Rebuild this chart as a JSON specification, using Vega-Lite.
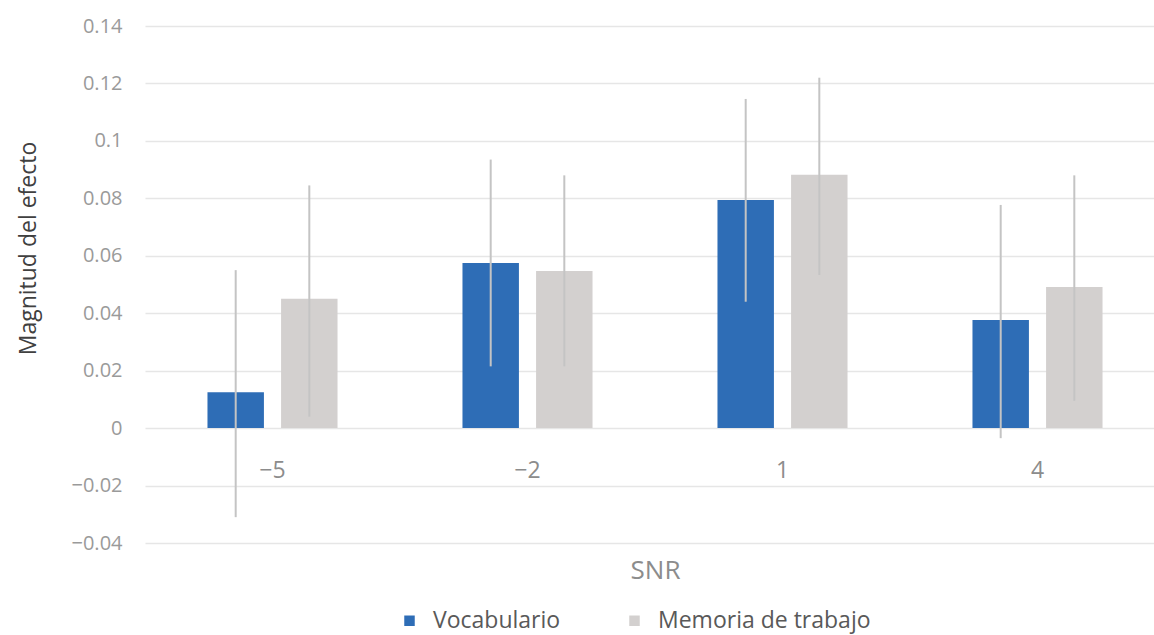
{
  "$schema": "https://vega.github.io/schema/vega-lite/v6.json",
  "width": 1009,
  "height": 517,
  "autosize": {"type": "none"},
  "padding": {"left": 145, "top": 26, "right": 0, "bottom": 92},
  "background": "white",
  "config": {
    "font": "Open Sans",
    "view": {"stroke": null}
  },
  "data": {
    "values": [
      {"snr": "−5", "serie": "Vocabulario", "valor": 0.0125, "lo": -0.031, "hi": 0.055},
      {"snr": "−5", "serie": "Memoria de trabajo", "valor": 0.045, "lo": 0.004, "hi": 0.0845},
      {"snr": "−2", "serie": "Vocabulario", "valor": 0.0575, "lo": 0.0215, "hi": 0.0935},
      {"snr": "−2", "serie": "Memoria de trabajo", "valor": 0.0547, "lo": 0.0215, "hi": 0.088},
      {"snr": "1", "serie": "Vocabulario", "valor": 0.0794, "lo": 0.044, "hi": 0.1146},
      {"snr": "1", "serie": "Memoria de trabajo", "valor": 0.0882, "lo": 0.0533, "hi": 0.122},
      {"snr": "4", "serie": "Vocabulario", "valor": 0.0376, "lo": -0.0035, "hi": 0.0777},
      {"snr": "4", "serie": "Memoria de trabajo", "valor": 0.0491, "lo": 0.0095, "hi": 0.088}
    ]
  },
  "encoding": {
    "x": {
      "field": "snr",
      "type": "nominal",
      "sort": ["−5", "−2", "1", "4"],
      "scale": {"paddingInner": 0.49, "paddingOuter": 0.245, "range": [0, 1020]},
      "axis": {
        "title": "SNR",
        "labelAngle": 0,
        "domain": false,
        "ticks": false,
        "offset": -115,
        "labelPadding": 31,
        "labelFontSize": 23,
        "labelColor": "#8C8C8C",
        "titleFontSize": 26,
        "titleFontWeight": "normal",
        "titleColor": "#8C8C8C",
        "titleY": 142,
        "titleBaseline": "middle"
      }
    },
    "xOffset": {
      "field": "serie",
      "type": "nominal",
      "sort": ["Vocabulario", "Memoria de trabajo"],
      "scale": {"paddingInner": 0.233, "paddingOuter": 0}
    }
  },
  "layer": [
    {
      "mark": {"type": "bar"},
      "encoding": {
        "y": {
          "field": "valor",
          "type": "quantitative",
          "scale": {"domain": [-0.04, 0.14], "nice": false, "zero": false},
          "axis": {
            "title": "Magnitud del efecto",
            "values": [-0.04, -0.02, 0, 0.02, 0.04, 0.06, 0.08, 0.1, 0.12, 0.14],
            "format": "~g",
            "domain": false,
            "ticks": false,
            "labelPadding": 23,
            "labelFontSize": 20,
            "labelColor": "#9A9A9A",
            "gridColor": "#E6E6E6",
            "gridWidth": 1.5,
            "titleFontSize": 23,
            "titleFontWeight": "normal",
            "titleColor": "#404040",
            "titleX": -117,
            "titleY": 222,
            "titleBaseline": "middle"
          }
        },
        "color": {
          "field": "serie",
          "type": "nominal",
          "sort": ["Vocabulario", "Memoria de trabajo"],
          "scale": {"domain": ["Vocabulario", "Memoria de trabajo"], "range": ["#2E6DB6", "#D3D0CF"]},
          "legend": {
            "title": null,
            "orient": "none",
            "direction": "horizontal",
            "legendX": 253,
            "legendY": 583,
            "symbolType": "square",
            "symbolSize": 110,
            "symbolStrokeWidth": 0,
            "labelOffset": 12,
            "labelFontSize": 23,
            "labelColor": "#595959",
            "columnPadding": 62,
            "labelLimit": 400
          }
        }
      }
    },
    {
      "mark": {"type": "rule", "color": "#C4C4C4", "strokeWidth": 2},
      "encoding": {
        "y": {"field": "lo", "type": "quantitative"},
        "y2": {"field": "hi"}
      }
    }
  ]
}
